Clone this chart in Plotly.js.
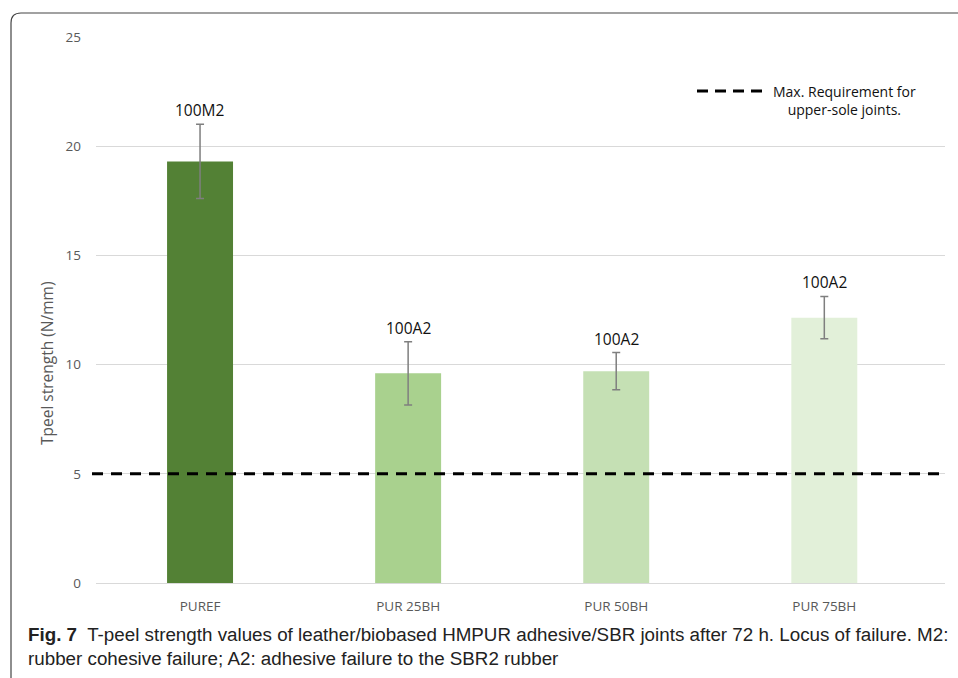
<!DOCTYPE html>
<html>
<head>
<meta charset="utf-8">
<script src="https://cdn.plot.ly/plotly-3.0.1.min.js"></script>
<style>
  html, body { margin: 0; padding: 0; background: #fff; }
  #chart { width: 958px; height: 678px; }
</style>
</head>
<body>
<div id="chart"></div>
<script>
const categories = ["PUREF", "PUR 25BH", "PUR 50BH", "PUR 75BH"];
const tpeelValues = [19.3, 9.6, 9.7, 12.15];
const tpeelErrors = [1.7, 1.45, 0.85, 0.97];
const failureLabels = ["100M2", "100A2", "100A2", "100A2"];
const requirementValue = 5;
const yTicks = [0, 5, 10, 15, 20, 25];

const barColors = ["#538135", "#A9D18E", "#C5E0B4", "#E2F0D9"];

// plot area geometry (px)
const W = 958, H = 678;
const L = 96, R = 13, T = 37, B = 95;
const pw = W - L - R, ph = H - T - B;
const px2x = p => (p - L) / pw;
const py2y = p => (H - B - p) / ph;

const baseFont = "Open Sans, Liberation Sans, sans-serif";

const trace = {
  type: "bar",
  x: categories,
  y: tpeelValues,
  marker: { color: barColors },
  width: 0.317,
  error_y: {
    type: "data",
    array: tpeelErrors,
    visible: true,
    color: "#7f7f7f",
    thickness: 1.5,
    width: 4
  },
  hoverinfo: "skip",
  showlegend: false
};

const annotations = categories.map((c, i) => ({
  x: c, y: tpeelValues[i] + tpeelErrors[i],
  xref: "x", yref: "y",
  text: failureLabels[i],
  showarrow: false,
  yanchor: "bottom",
  yshift: 1,
  font: { family: baseFont, size: 15.5, color: "#111" }
}));

// y-axis title
annotations.push({
  xref: "paper", yref: "paper",
  x: px2x(47), y: py2y(363),
  text: "Tpeel strength (N/mm)",
  textangle: -90,
  showarrow: false,
  xanchor: "center", yanchor: "middle",
  font: { family: baseFont, size: 15.5, color: "#595959" }
});

// legend text
annotations.push({
  xref: "paper", yref: "paper",
  x: px2x(844), y: py2y(100),
  text: "Max. Requirement for<br>upper-sole joints.",
  showarrow: false,
  align: "center",
  xanchor: "center", yanchor: "middle",
  font: { family: baseFont, size: 14, color: "#111" }
});

// caption
annotations.push({
  xref: "paper", yref: "paper",
  x: px2x(26), y: py2y(646),
  xanchor: "left", yanchor: "middle",
  align: "left",
  showarrow: false,
  text: "<b>Fig. 7</b>  T-peel strength values of leather/biobased HMPUR adhesive/SBR joints after 72 h. Locus of failure. M2:<br>rubber cohesive failure; A2: adhesive failure to the SBR2 rubber",
  font: { family: "Liberation Sans, Arial, sans-serif", size: 18.8, color: "#222" }
});

const x0 = px2x(11), yTop = py2y(13), xR = px2x(975), yB = py2y(700);
const rx = 10 / pw, ry = 10 / ph;

const shapes = [
  {
    type: "line", xref: "paper", yref: "y",
    x0: px2x(92), x1: px2x(945), y0: requirementValue, y1: requirementValue,
    line: { color: "#000", width: 3, dash: "11px,8px" }
  },
  {
    type: "line", xref: "paper", yref: "paper",
    x0: px2x(697), x1: px2x(762), y0: py2y(91), y1: py2y(91),
    line: { color: "#000", width: 3, dash: "11px,7px" }
  },
  {
    type: "path", xref: "paper", yref: "paper",
    path: `M ${xR} ${yTop} L ${x0 + rx} ${yTop} Q ${x0} ${yTop} ${x0} ${yTop - ry} L ${x0} ${yB}`,
    line: { color: "#444", width: 1.2 }
  }
];

const layout = {
  width: W, height: H,
  margin: { l: L, r: R, t: T, b: B, pad: 0 },
  paper_bgcolor: "#fff",
  plot_bgcolor: "#fff",
  xaxis: {
    type: "category",
    range: [-0.5, 3.58],
    showline: false,
    showgrid: false,
    ticks: "",
    tickfont: { family: baseFont, size: 13.5, color: "#595959" },
    ticklabelstandoff: 13
  },
  yaxis: {
    range: [0, 25],
    tickvals: yTicks,
    ticktext: yTicks.map(String),
    showgrid: true,
    gridcolor: "#d9d9d9",
    gridwidth: 1,
    zeroline: true,
    zerolinecolor: "#d9d9d9",
    zerolinewidth: 1,
    showline: false,
    ticks: "",
    tickfont: { family: baseFont, size: 13.5, color: "#595959" },
    ticklabelstandoff: 14
  },
  shapes: shapes,
  annotations: annotations
};

Plotly.newPlot("chart", [trace], layout, { displayModeBar: false, staticPlot: true });
</script>
</body>
</html>
